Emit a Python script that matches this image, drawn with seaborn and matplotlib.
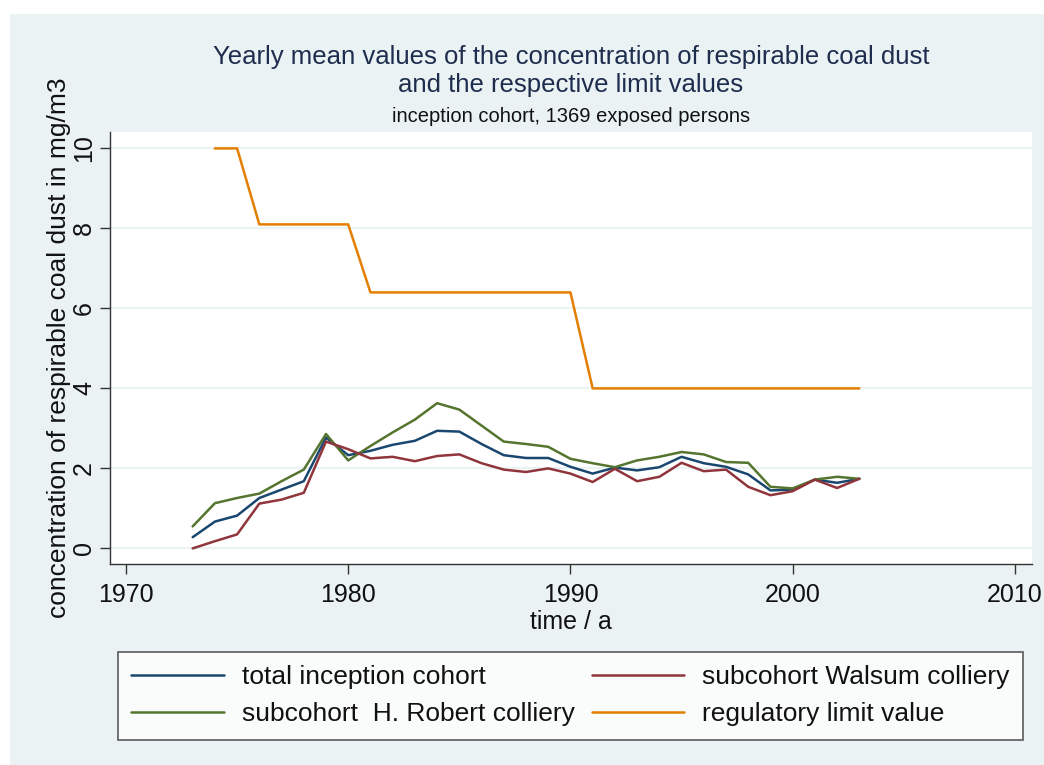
import numpy as np
import pandas as pd
import matplotlib
matplotlib.use("Agg")
import matplotlib.pyplot as plt
import seaborn as sns
from matplotlib.patches import Rectangle

years = list(range(1973, 2004))
total_cohort = [0.28, 0.67, 0.82, 1.26, 1.47, 1.68, 2.77, 2.33, 2.44, 2.59, 2.69, 2.94, 2.92,
                2.61, 2.33, 2.26, 2.26, 2.04, 1.87, 2.02, 1.95, 2.03, 2.29, 2.13, 2.04, 1.85,
                1.45, 1.47, 1.72, 1.64, 1.74]
walsum = [0.0, 0.18, 0.35, 1.12, 1.22, 1.39, 2.67, 2.48, 2.25, 2.29, 2.18, 2.31, 2.35,
          2.13, 1.97, 1.91, 2.0, 1.87, 1.66, 1.99, 1.68, 1.79, 2.14, 1.93, 1.97, 1.54,
          1.33, 1.43, 1.72, 1.51, 1.74]
robert = [0.55, 1.13, 1.26, 1.37, 1.68, 1.97, 2.86, 2.2, 2.56, 2.9, 3.22, 3.63, 3.47,
          3.07, 2.67, 2.61, 2.54, 2.24, 2.13, 2.03, 2.2, 2.29, 2.41, 2.35, 2.16, 2.14,
          1.54, 1.5, 1.72, 1.79, 1.74]
limit_years = list(range(1974, 2004))
limit_values = [10, 10, 8.1, 8.1, 8.1, 8.1, 8.1, 6.4, 6.4, 6.4, 6.4, 6.4, 6.4, 6.4, 6.4,
                6.4, 6.4, 4, 4, 4, 4, 4, 4, 4, 4, 4, 4, 4, 4, 4]

series_names = ["total inception cohort", "subcohort  H. Robert colliery",
                "subcohort Walsum colliery", "regulatory limit value"]
colors = {"total inception cohort": "#1A476F",
          "subcohort Walsum colliery": "#90353B",
          "subcohort  H. Robert colliery": "#55752F",
          "regulatory limit value": "#E37E00"}

df = pd.concat([
    pd.DataFrame({"year": years, "value": total_cohort, "series": series_names[0]}),
    pd.DataFrame({"year": years, "value": walsum, "series": series_names[2]}),
    pd.DataFrame({"year": years, "value": robert, "series": series_names[1]}),
    pd.DataFrame({"year": limit_years, "value": limit_values, "series": series_names[3]}),
])

sns.set_style("white")
plt.rcParams["font.family"] = ["Liberation Sans", "DejaVu Sans"]

bg = "#EAF2F3"
W, H = 1044, 765
fig = plt.figure(figsize=(W / 100, H / 100), dpi=100)
fig.patch.set_facecolor("white")
fig.patches.append(Rectangle((10 / W, 0), 1 - 10 / W, 1 - 14 / H, transform=fig.transFigure,
                             facecolor=bg, edgecolor="none", zorder=-10))

ax = fig.add_axes([110 / W, 1 - 564 / H, 922 / W, 432 / H])
ax.set_facecolor("white")
sns.lineplot(data=df, x="year", y="value", hue="series", hue_order=series_names,
             palette=colors, linewidth=1.8, ax=ax, legend=False)

ax.set_xlim(1969.28, 2010.77)
ax.set_ylim(-0.39, 10.41)
ax.set_xticks([1970, 1980, 1990, 2000, 2010])
ax.set_yticks([0, 2, 4, 6, 8, 10])
ax.yaxis.grid(True, color=bg, linewidth=1.6)
ax.xaxis.grid(False)
for s in ["top", "right"]:
    ax.spines[s].set_visible(False)
for s in ["left", "bottom"]:
    ax.spines[s].set_color("#333333")
    ax.spines[s].set_linewidth(1.0)
ax.tick_params(axis="both", which="both", direction="out", length=7, width=1.0,
               color="#333333", labelsize=18, labelcolor="#111111", left=True, bottom=True,
               pad=3)
ax.tick_params(axis="x", pad=7)
for lbl in ax.get_yticklabels():
    lbl.set_rotation(90)
    lbl.set_va("center")
ax.set_xlabel("time / a", fontsize=18, color="#111111", labelpad=2)
ax.set_ylabel("concentration of respirable coal dust in mg/m3", fontsize=19,
              color="#111111", labelpad=1)

fig.text(571 / W, 1 - 71 / H, "Yearly mean values of the concentration of respirable coal dust\nand the respective limit values",
         ha="center", va="center", fontsize=18.5, color="#1E2D4E", linespacing=1.18)
fig.text(571 / W, 1 - 116 / H, "inception cohort, 1369 exposed persons",
         ha="center", va="center", fontsize=14.5, color="#111111")

handles = [plt.Line2D([], [], color=colors[n], linewidth=1.8) for n in series_names]
leg = fig.legend(handles, series_names, ncol=2, loc="upper left",
                 bbox_to_anchor=(118 / W, 1 - 736 / H, 905 / W, 84 / H), mode="expand",
                 fontsize=19, frameon=True, fancybox=False, handlelength=3.5,
                 handletextpad=0.7, borderpad=0.5, labelspacing=0.5, borderaxespad=0)
leg.get_frame().set_edgecolor("#333333")
leg.get_frame().set_linewidth(1.2)
leg.get_frame().set_facecolor("white")
for t in leg.get_texts():
    t.set_color("#111111")

fig.savefig("out.png", dpi=100, facecolor=fig.get_facecolor())
